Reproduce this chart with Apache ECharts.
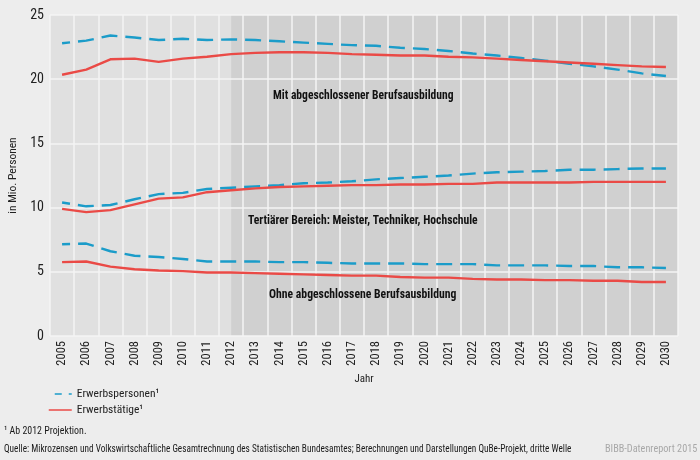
<!DOCTYPE html>
<html>
<head>
<meta charset="utf-8">
<style>
  html, body { margin: 0; padding: 0; background: #ededed; }
  #chart-container { width: 700px; height: 460px; }
</style>
<script src="https://cdn.jsdelivr.net/npm/echarts@6/dist/echarts.min.js"></script>
</head>
<body>
<div id="chart-container"></div>
<script>
var years = ["2005","2006","2007","2008","2009","2010","2011","2012","2013","2014","2015","2016","2017",
  "2018","2019","2020","2021","2022","2023","2024","2025","2026","2027","2028","2029","2030"];

var mitPersonen = [22.8,23.0,23.4,23.25,23.05,23.15,23.05,23.1,23.05,22.95,22.85,22.75,22.65,22.6,22.45,22.35,22.2,22.0,21.85,21.65,21.45,21.2,21.0,20.75,20.45,20.25];
var mitTaetige = [20.35,20.75,21.55,21.6,21.35,21.6,21.75,21.95,22.05,22.1,22.1,22.05,21.95,21.9,21.85,21.85,21.75,21.7,21.6,21.5,21.4,21.3,21.2,21.1,21.0,20.95];
var tertPersonen = [10.4,10.1,10.2,10.65,11.05,11.15,11.45,11.55,11.65,11.75,11.9,11.95,12.05,12.2,12.3,12.4,12.5,12.65,12.75,12.8,12.85,12.95,12.95,13.0,13.05,13.05];
var tertTaetige = [9.9,9.65,9.8,10.25,10.7,10.8,11.2,11.35,11.5,11.6,11.65,11.7,11.75,11.75,11.8,11.8,11.85,11.85,11.95,11.95,11.95,11.95,12.0,12.0,12.0,12.0];
var ohnePersonen = [7.15,7.2,6.6,6.25,6.15,6.0,5.8,5.8,5.8,5.75,5.75,5.7,5.65,5.65,5.65,5.6,5.6,5.6,5.5,5.5,5.5,5.45,5.45,5.35,5.35,5.3];
var ohneTaetige = [5.75,5.8,5.4,5.2,5.1,5.05,4.95,4.95,4.9,4.85,4.8,4.75,4.7,4.7,4.6,4.55,4.55,4.45,4.4,4.4,4.35,4.35,4.3,4.3,4.2,4.2];

var PERSONEN = "Erwerbspersonen¹";
var TAETIGE = "Erwerbstätige¹";
var BLUE = "#1b9cc9";
var RED = "#ea4a46";
var FONT = "'Roboto Condensed', sans-serif";

function personenLine(values) {
  return {
    name: PERSONEN, type: "line", data: values, symbol: "none", z: 4, silent: true,
    lineStyle: { color: BLUE, width: 2.4, type: [16, 8], dashOffset: 8 },
    itemStyle: { color: BLUE }
  };
}

function taetigeLine(values) {
  return {
    name: TAETIGE, type: "line", data: values, symbol: "none", z: 5, silent: true,
    lineStyle: { color: RED, width: 2.4 },
    itemStyle: { color: RED }
  };
}

function note(text, x, y, size, weight, color, scale) {
  return {
    type: "text", x: x, y: y, z: 10, scaleX: scale || 1,
    style: { text: text, font: (weight || "normal") + " " + size + "px " + FONT, fill: color || "#1a1a1a" }
  };
}

// projection shading sits on the first series, under the grid lines
var first = personenLine(mitPersonen);
first.markArea = {
  silent: true, z: 1,
  itemStyle: { color: "#d0d0d0" },
  data: [[{ xAxis: "2012" }, { xAxis: Infinity }]]
};

var option = {
  backgroundColor: "#ededed",
  animation: false,
  textStyle: { fontFamily: FONT },
  grid: { left: 50, right: 22, top: 15, bottom: 124, outerBoundsMode: "none", show: true, backgroundColor: "#e0e0e0", borderWidth: 0 },
  xAxis: {
    type: "category", data: years, z: 2,
    name: "Jahr", nameLocation: "middle", nameGap: 34,
    nameTextStyle: { fontSize: 11, color: "#222", fontFamily: FONT },
    axisLine: { show: false }, axisTick: { show: false },
    axisLabel: { rotate: 90, interval: 0, fontSize: 12.5, color: "#222", margin: 5, fontFamily: FONT },
    splitLine: { show: true, interval: 0, lineStyle: { color: "#f4f4f4", width: 1.5 } }
  },
  yAxis: {
    type: "value", min: 0, max: 25, interval: 5, z: 2,
    name: "in Mio. Personen", nameLocation: "middle", nameGap: 26,
    nameTextStyle: { fontSize: 11.5, color: "#222", fontFamily: FONT },
    axisLine: { show: false }, axisTick: { show: false },
    axisLabel: { fontSize: 14, color: "#222", margin: 6, padding: [3, 0, 0, 0], fontFamily: FONT },
    splitLine: { lineStyle: { color: "#f4f4f4", width: 1.5 } }
  },
  legend: {
    orient: "vertical", left: 43, top: 383, itemWidth: 23, itemHeight: 12, itemGap: 4,
    selectedMode: false,
    itemStyle: { opacity: 0 },
    textStyle: { fontSize: 11.5, color: "#222", fontFamily: FONT },
    data: [
      { name: PERSONEN, lineStyle: { width: 1.5, type: [7, 7] } },
      { name: TAETIGE, lineStyle: { width: 1.5 } }
    ]
  },
  series: [
    first, taetigeLine(mitTaetige),
    personenLine(tertPersonen), taetigeLine(tertTaetige),
    personenLine(ohnePersonen), taetigeLine(ohneTaetige)
  ],
  graphic: [
    note("Mit abgeschlossener Berufsausbildung", 273, 89, 12.5, "bold", "#111", 0.925),
    note("Tertiärer Bereich: Meister, Techniker, Hochschule", 248, 214, 12.5, "bold", "#111", 0.93),
    note("Ohne abgeschlossene Berufsausbildung", 269, 288, 12.5, "bold", "#111", 0.935),
    note("¹ Ab 2012 Projektion.", 4, 426, 11, "normal", "#1a1a1a", 0.9),
    note("Quelle: Mikrozensen und Volkswirtschaftliche Gesamtrechnung des Statistischen Bundesamtes; Berechnungen und Darstellungen QuBe-Projekt, dritte Welle", 4, 444, 11, "normal", "#1a1a1a", 0.843),
    note("BIBB-Datenreport 2015", 605, 444, 11, "normal", "#a8a8a8", 0.93)
  ]
};

var myChart = echarts.init(document.getElementById("chart-container"));
myChart.setOption(option);
</script>
</body>
</html>
